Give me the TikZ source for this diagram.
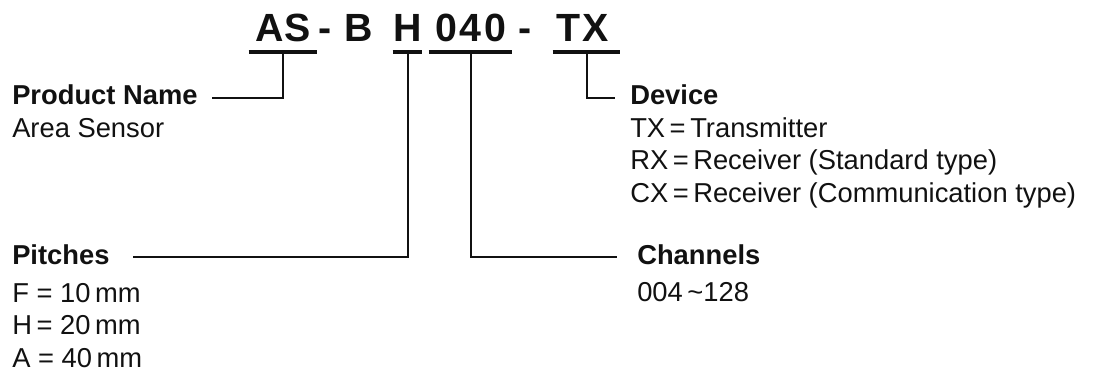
\documentclass[tikz,border=0pt]{standalone}
\usepackage{fontspec}
\setmainfont{Liberation Sans}
\usetikzlibrary{positioning}
\definecolor{codeink}{RGB}{17,17,17}

\tikzset{
  codepart/.style={font=\fontsize{29.5}{31}\selectfont\bfseries, text=codeink, anchor=base, inner xsep=0pt, inner ysep=7.5pt, text depth=0pt},
  labelhead/.style={font=\fontsize{20.5}{24.4}\selectfont\bfseries, text=codeink, anchor=base west, inner sep=0pt},
  labelbody/.style={font=\fontsize{20.5}{24.4}\selectfont, text=codeink, anchor=north west, inner sep=0pt, align=left},
  underbar/.style={line width=3pt, codeink},
  link/.style={line width=1.5pt, codeink}
}

\begin{document}
\begin{tikzpicture}[x=0.75pt, y=-0.75pt]
  \useasboundingbox (0,0) rectangle (1112,373);

  % Model code
  \node[codepart, minimum width=51pt] (as) at (283,42) {AS};
  \node[codepart] (dash1) at (325,42) {-};
  \node[codepart] (b) at (359,42) {B};
  \node[codepart, minimum width=21.75pt] (h) at (407.5,42) {H};
  \node[codepart, minimum width=62.25pt] (num) at (470.5,42) {0\kern2pt4\kern2pt0};
  \node[codepart] (dash2) at (525,42) {-};
  \node[codepart, minimum width=50.25pt] (tx) at (586.5,42) {T\kern1.5pt X\kern6pt};

  % Underlines
  \draw[underbar] (as.south west) -- (as.south east);
  \draw[underbar] (h.south west) -- (h.south east);
  \draw[underbar] (num.south west) -- (num.south east);
  \draw[underbar] (tx.south west) -- (tx.south east);

  % Labels
  \node[labelhead] (pname) at (12,105) {Product Name};
  \node[labelbody] (parea) at (12,118) {Area Sensor};
  \node[labelhead] (pitch) at (12,265) {Pitches};
  \node[labelbody] (pitchlist) at (12,283) {F = 10\,mm\\H\,= 20\,mm\\A = 40\,mm};
  \node[labelhead] (dev) at (630,105) {Device};
  \node[labelbody] (devlist) at (630,117) {TX\,=\,Transmitter\\RX\,=\,Receiver (Standard type)\\CX\,=\,Receiver (Communication type)};
  \node[labelhead] (chan) at (637,265) {Channels};
  \node[labelbody] (chanlist) at (637,282) {004\,\textasciitilde128};

  % Line ends
  \coordinate (pn-tip) at (212,98);
  \coordinate (pi-tip) at (133,257);
  \coordinate (ch-tip) at (617,257);
  \coordinate (dv-tip) at (615,98);

  % Connectors
  \draw[link] (as.south) |- (pn-tip);
  \draw[link] (h.south) |- (pi-tip);
  \draw[link] (num.south) |- (ch-tip);
  \draw[link] (tx.south) |- (dv-tip);
\end{tikzpicture}
\end{document}
